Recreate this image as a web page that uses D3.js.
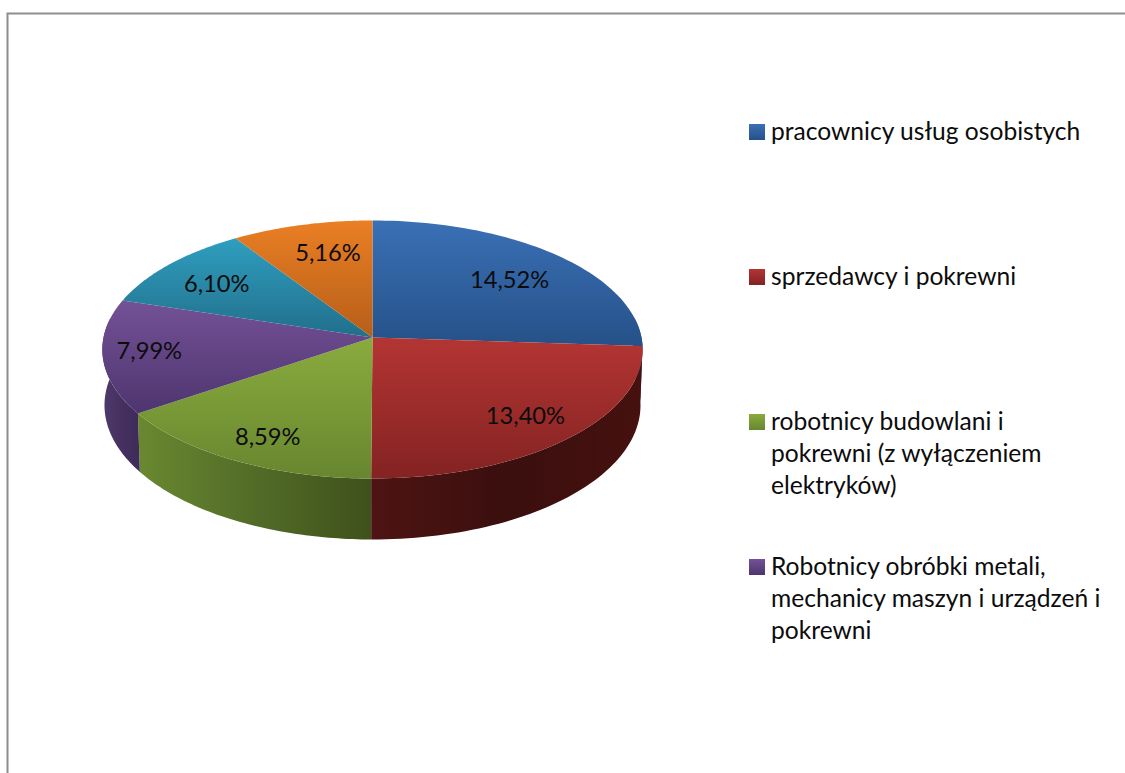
<!DOCTYPE html>
<html><head><meta charset="utf-8">
<script src="https://cdn.jsdelivr.net/npm/d3@7"></script>
<style>html,body{margin:0;padding:0;background:#fff;overflow:hidden}svg{display:block}
text{font-family:Lato,"Open Sans",sans-serif;fill:#0c0c0c}</style></head>
<body><svg id="c" width="1125" height="773"></svg>
<script>
// data
const shares = [14.52, 13.40, 8.59, 7.99, 6.10, 5.16];
const shareLabels = ["14,52%", "13,40%", "8,59%", "7,99%", "6,10%", "5,16%"];
const legendNames = [
  ["pracownicy usług osobistych"],
  ["sprzedawcy i pokrewni"],
  ["robotnicy budowlani i", "pokrewni (z wyłączeniem", "elektryków)"],
  ["Robotnicy obróbki metali,", "mechanicy maszyn i urządzeń i", "pokrewni"]
];
// styles
const topLight  = ["#3a70b6", "#b33533", "#8aab3e", "#745196", "#2f9ebf", "#ea7f24"];
const topDark   = ["#265188", "#832322", "#68862f", "#4e356f", "#216f8b", "#b65e19"];
const sideLeft  = ["#26518a", "#4d1413", "#6a8830", "#4f3a6e", "#216f8b", "#b65e19"];
const sideMid   = ["#26518a", "#3a0f0e", "#526c28", "#45305f", "#216f8b", "#b65e19"];
const sideRight = ["#26518a", "#46110f", "#3f511a", "#3f2b5a", "#216f8b", "#b65e19"];
const labelRadius = [0.713, 0.789, 0.806, 0.828, 0.744, 0.731];
const labelTurn = [1.4, 0, -1.2, 1.5, -1.1, 2.7];
const legendTop = [140, 285, 430, 575];

const svg = d3.select("#c");
const defs = svg.append("defs");

// perspective view of the pie disc
const cx = 372.5, cy = 337.5, R = 269, A = 127.9, k = 0.093, depth = 55.3, shrink = 0.992;
function project(theta, r = 1, lower = false) {
  const u = Math.sin(theta) * r, v = -Math.cos(theta) * r, s = 1 / (1 - k * v);
  return lower
    ? [cx + R * u * s * shrink, cy + A * v * s + depth * s]
    : [cx + R * u * s, cy + A * v * s];
}
const arcs = d3.pie().sort(null).value(d => d)(shares).sort((a, b) => a.index - b.index);
const line = d3.line();
const sampleAngles = (a, b) => d3.range(0, 61).map(i => a + (b - a) * i / 60);

arcs.forEach(d => {
  const i = d.index;
  const g = defs.append("linearGradient").attr("id", "top" + i).attr("x1", 0).attr("y1", 0).attr("x2", 0).attr("y2", 1);
  g.append("stop").attr("offset", 0).attr("stop-color", topLight[i]);
  g.append("stop").attr("offset", 1).attr("stop-color", topDark[i]);
  const h = defs.append("linearGradient").attr("id", "side" + i).attr("x1", 0).attr("y1", 0).attr("x2", 1).attr("y2", 0);
  h.append("stop").attr("offset", 0).attr("stop-color", sideLeft[i]);
  h.append("stop").attr("offset", 0.5).attr("stop-color", sideMid[i]);
  h.append("stop").attr("offset", 1).attr("stop-color", sideRight[i]);
});

// frame
svg.append("path").attr("d", line([[7.5, 773], [7.5, 13.5], [1125, 13.5]]))
  .attr("fill", "none").attr("stroke", "#8e8e8e").attr("stroke-width", 2);

const pie = svg.append("g");
// side walls (only the front half shows; the tops cover the rest)
arcs.forEach(d => {
  const a0 = Math.max(d.startAngle, Math.PI * 0.45), a1 = Math.min(d.endAngle, Math.PI * 1.55);
  if (a1 <= a0) return;
  const as = sampleAngles(a0, a1);
  const pts = as.map(t => project(t)).concat(as.slice().reverse().map(t => project(t, 1, true)));
  pie.append("path").attr("d", line(pts) + "Z").attr("fill", `url(#side${d.index})`);
});
// top faces
arcs.forEach(d => {
  const pts = [project(0, 0)].concat(sampleAngles(d.startAngle, d.endAngle).map(t => project(t)));
  pie.append("path").attr("d", line(pts) + "Z").attr("fill", `url(#top${d.index})`);
});
// data labels
arcs.forEach(d => {
  const mid = (d.startAngle + d.endAngle) / 2 + labelTurn[d.index] * Math.PI / 180;
  const [x, y] = project(mid, labelRadius[d.index]);
  svg.append("text").attr("x", x).attr("y", y + 8.5).attr("text-anchor", "middle")
    .attr("font-size", 23.7).text(shareLabels[d.index]);
});
// legend
legendNames.forEach((lines, i) => {
  const y = legendTop[i];
  svg.append("rect").attr("x", 749).attr("y", y - 16).attr("width", 16).attr("height", 16)
    .attr("fill", `url(#top${i})`);
  lines.forEach((t, j) => svg.append("text").attr("x", 771).attr("y", y + j * 32)
    .attr("font-size", 24.6).text(t));
});
</script></body></html>
